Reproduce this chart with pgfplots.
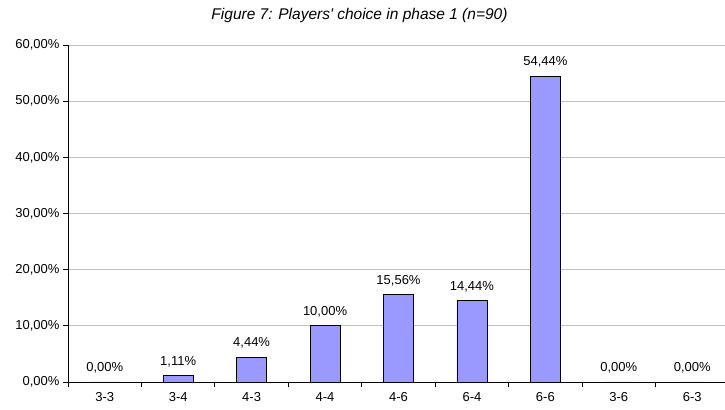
\documentclass[border=0pt]{standalone}
\usepackage{pgfplots}
\pgfplotsset{compat=1.18}
\usepackage{fontspec}
\setmainfont{Liberation Sans}
\definecolor{barblue}{RGB}{153,153,255}
\definecolor{gridgrey}{RGB}{192,192,192}
\begin{document}
\begin{tikzpicture}
\begin{axis}[
  name=ax,
  scale only axis,
  width=661pt, height=337pt,
  xmin=-0.5, xmax=8.5,
  ymin=0, ymax=60,
  axis x line*=bottom, axis y line*=left,
  axis line style={black, line width=0.8pt},
  xtick={0,...,8},
  xticklabels={3-3,3-4,4-3,4-4,4-6,6-4,6-6,3-6,6-3},
  major x tick style={draw=none},
  minor xtick={-0.5,0.5,...,8.5},
  minor tick length=5pt,
  minor x tick style={black, line width=0.8pt},
  ytick={0,10,...,60},
  major tick length=5pt,
  tick align=outside,
  y tick style={black, line width=0.8pt},
  ymajorgrids,
  grid style={gridgrey, line width=0.8pt},
  /pgf/number format/assume math mode=true,
  yticklabel={\pgfmathprintnumber[fixed,fixed zerofill,precision=2,use comma]{\tick}\%},
  tick label style={font=\fontsize{13}{15}\selectfont},
  x tick label style={yshift=-2pt},
  title={\itshape Figure 7: Players\textquotesingle\ choice in phase 1 (n=90)},
  title style={at={(0.441,1)}, anchor=center, yshift=23pt, font=\fontsize{15.5}{17}\selectfont},
  ybar, bar width=30pt,
  nodes near coords={\pgfmathprintnumber[fixed,fixed zerofill,precision=2,use comma,assume math mode=true]{\pgfplotspointmeta}\%},
  nodes near coords style={font=\fontsize{13}{15}\selectfont, black, yshift=5pt},
]
\addplot[fill=barblue, draw=black, line width=0.8pt] coordinates {
  (0,0) (1,1.11) (2,4.44) (3,10.00) (4,15.56) (5,14.44) (6,54.44) (7,0) (8,0)
};
\end{axis}
\pgfresetboundingbox
\path ([shift={(-68pt,-28pt)}]ax.south west) rectangle ([shift={(657pt,45pt)}]ax.north west);
\end{tikzpicture}
\end{document}
